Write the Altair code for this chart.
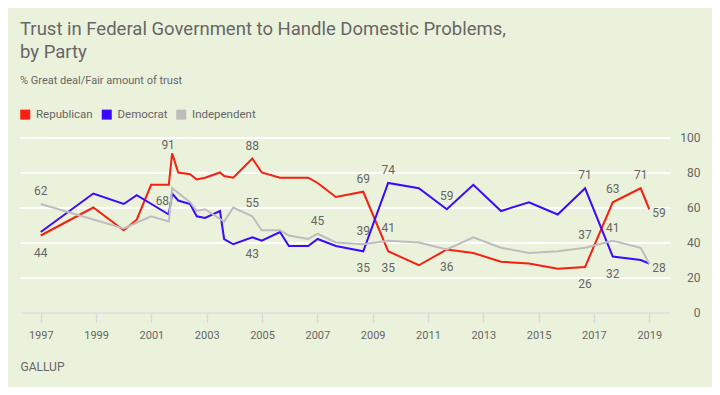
import altair as alt
import pandas as pd

parties = ["Republican", "Democrat", "Independent"]
colors = ["#F5200F", "#3A0AFF", "#BDBDBD"]

rep_years = [1997.0, 1998.9, 2000.0, 2000.47, 2000.99, 2001.63, 2001.75, 2001.97, 2002.4, 2002.64,
             2002.94, 2003.48, 2003.63, 2003.96, 2004.65, 2004.99, 2005.65, 2006.67, 2007.01, 2007.67,
             2008.66, 2009.56, 2010.67, 2011.68, 2012.64, 2013.64, 2014.65, 2015.69, 2016.68, 2017.68,
             2018.69, 2019.0]
rep_values = [44, 60, 47, 53, 73, 73, 91, 80, 79, 76,
              77, 80, 78, 77, 88, 80, 77, 77, 74, 66,
              69, 35, 27, 36, 34, 29, 28, 25, 26, 63,
              71, 59]

dem_years = [1997.0, 1998.9, 2000.0, 2000.47, 2001.63, 2001.75, 2001.97, 2002.4, 2002.64, 2002.94,
             2003.48, 2003.63, 2003.96, 2004.65, 2004.99, 2005.65, 2005.97, 2006.67, 2007.01, 2007.67,
             2008.66, 2009.56, 2010.67, 2011.68, 2012.64, 2013.64, 2014.65, 2015.69, 2016.68, 2017.68,
             2018.69, 2019.0]
dem_values = [46, 68, 62, 67, 56, 68, 64, 62, 55, 54,
              58, 42, 39, 43, 41, 46, 38, 38, 42, 38,
              35, 74, 71, 59, 73, 58, 63, 56, 71, 32,
              30, 28]

ind_years = [1997.0, 2000.0, 2000.99, 2001.63, 2001.75, 2002.4, 2002.64, 2002.94, 2003.63, 2003.96,
             2004.65, 2004.99, 2005.65, 2005.97, 2006.67, 2007.01, 2007.67, 2008.66, 2009.56, 2010.67,
             2011.68, 2012.64, 2013.64, 2014.65, 2015.69, 2016.68, 2017.68, 2018.69, 2019.0]
ind_values = [62, 48, 55, 52, 71, 63, 58, 59, 52, 60,
              55, 47, 47, 44, 42, 45, 40, 39, 41, 40,
              36, 43, 37, 34, 35, 37, 41, 37, 28]

label_party = ["Independent", "Republican", "Republican", "Democrat", "Republican", "Independent",
               "Democrat", "Independent", "Republican", "Independent", "Democrat", "Democrat",
               "Independent", "Republican", "Democrat", "Republican", "Democrat", "Independent",
               "Republican", "Republican", "Independent", "Democrat", "Republican", "Republican",
               "Democrat"]
label_years = [1997.0, 1997.0, 2001.75, 2001.75, 2004.65, 2004.65,
               2004.65, 2007.01, 2008.66, 2008.66, 2008.66, 2009.56,
               2009.56, 2009.56, 2011.68, 2011.68, 2016.68, 2016.68,
               2016.68, 2017.68, 2017.68, 2017.68, 2018.69, 2019.0,
               2019.0]
label_pos = ["above", "below", "peak", "left", "above", "above",
             "below", "above", "above", "above", "below", "above",
             "above", "below", "above", "below", "above", "above",
             "below", "above", "above", "below", "above", "right",
             "right"]

x_ticks = [1997, 1999, 2001, 2003, 2005, 2007, 2009, 2011, 2013, 2015, 2017, 2019]
y_ticks = [0, 20, 40, 60, 80, 100]

FONT = "Roboto"
TXT = "#666666"

series = {
    "Republican": (rep_years, rep_values),
    "Democrat": (dem_years, dem_values),
    "Independent": (ind_years, ind_values),
}
rows = []
for p in parties:
    ys, vs = series[p]
    for y, v in zip(ys, vs):
        rows.append({"party": p, "year": y, "value": v})
df = pd.DataFrame(rows)

lrows = []
for p, y, pos in zip(label_party, label_years, label_pos):
    ys, vs = series[p]
    v = vs[ys.index(y)]
    lrows.append({"party": p, "year": y, "value": v, "label": str(v), "pos": pos})
ldf = pd.DataFrame(lrows)

x_enc = alt.X("year:Q",
              scale=alt.Scale(domain=[1996.25, 2019.75], nice=False, zero=False),
              axis=alt.Axis(values=x_ticks, format="d", grid=False, domainColor="#D9D9D9",
                            domainWidth=1.5, tickColor="#D9D9D9", tickWidth=1.5, tickSize=10,
                            labelFontSize=11, labelColor=TXT, labelFont=FONT, labelPadding=7,
                            title="GALLUP", titleX=0, titleY=58, titleAlign="left",
                            titleAnchor="start", titleBaseline="alphabetic", titleFontSize=12,
                            titleFontWeight="normal", titleColor=TXT, titleFont=FONT, zindex=1))
y_enc = alt.Y("value:Q",
              scale=alt.Scale(domain=[0, 100], nice=False),
              axis=alt.Axis(orient="right", values=y_ticks, grid=True, gridColor="#FFFFFF",
                            gridWidth=2, domain=False, ticks=False, labelAlign="right",
                            labelPadding=30, labelFontSize=12, labelColor=TXT, labelFont=FONT,
                            title=None))

lines = alt.Chart(df).mark_line(strokeWidth=2).encode(
    x=x_enc, y=y_enc,
    color=alt.Color("party:N", scale=alt.Scale(domain=parties, range=colors),
                    legend=alt.Legend(title=None, orient="none", legendX=-0.5, legendY=-29,
                                      direction="horizontal", symbolType="square",
                                      symbolSize=1, symbolStrokeWidth=9, labelFontSize=11.5,
                                      labelColor=TXT, labelFont=FONT, columnPadding=-5.5,
                                      labelOffset=5, padding=0)),
)

offsets = {
    "above": dict(dy=-13, align="center"),
    "below": dict(dy=17, align="center"),
    "peak": dict(dy=-8, dx=-4, align="center"),
    "left": dict(dx=-3, dy=7, align="right"),
    "right": dict(dx=3, dy=4, align="left"),
}
label_layers = []
for pos, kw in offsets.items():
    label_layers.append(
        alt.Chart(ldf).transform_filter(alt.datum.pos == pos).mark_text(
            baseline="middle", fontSize=12, font=FONT, color=TXT, **kw
        ).encode(x=x_enc, y=y_enc, text="label:N")
    )

chart = alt.layer(lines, *label_layers).properties(
    width=650, height=175,
    autosize=alt.AutoSizeParams(type="none"),
    padding={"left": 12, "top": 129.5, "right": 42, "bottom": 74.5},
    title=alt.TitleParams(
        text=["Trust in Federal Government to Handle Domestic Problems,", "by Party"],
        subtitle="% Great deal/Fair amount of trust",
        anchor="start", frame="group", fontSize=18.5, fontWeight="normal", color=TXT,
        font=FONT, lineHeight=23, subtitleFontSize=11, subtitleColor=TXT,
        subtitleFont=FONT, subtitlePadding=13, offset=23,
    ),
).configure(background="#EBF2DC").configure_view(stroke=None)

chart.save("out.html", embed_options={"renderer": "svg", "actions": False})
